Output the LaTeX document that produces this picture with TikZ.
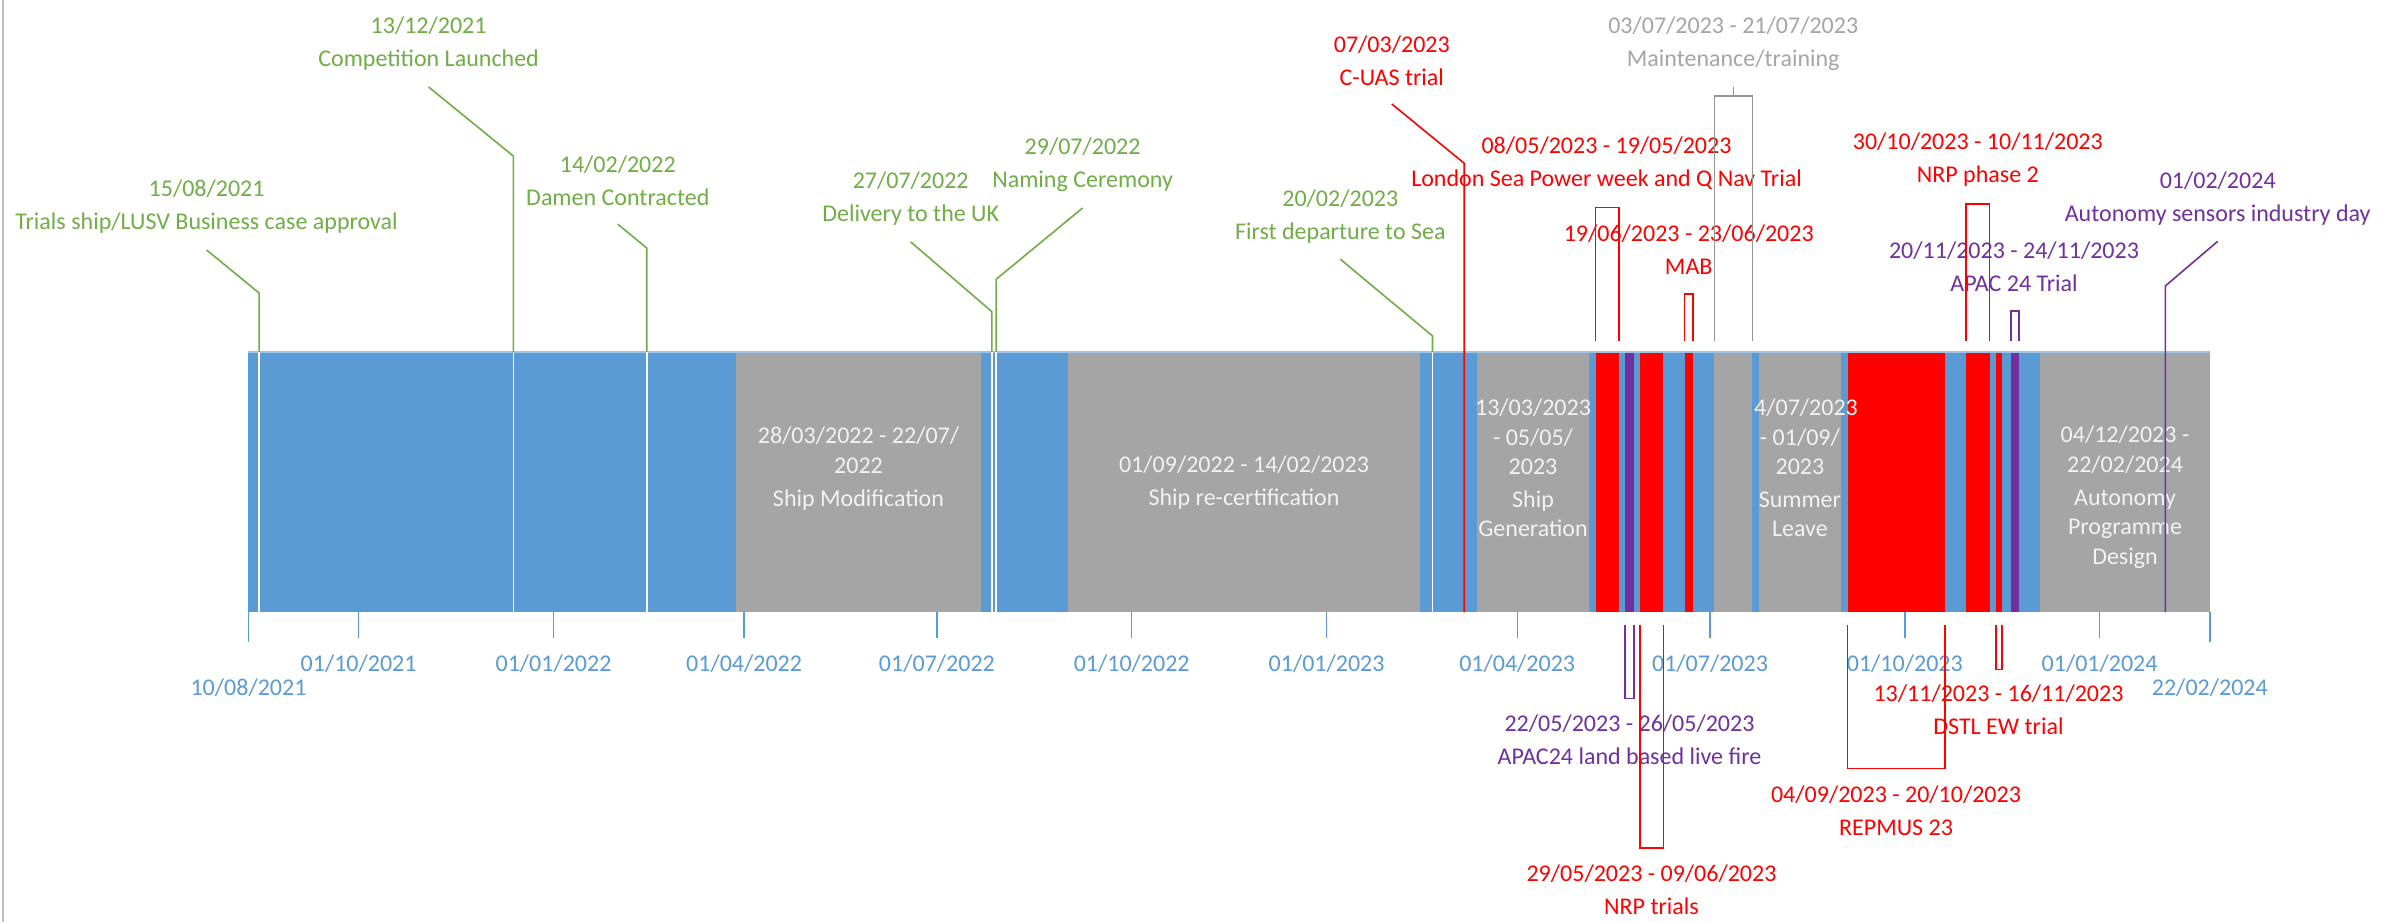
\documentclass[tikz,border=0pt]{standalone}
\usepackage{fontspec}
\setmainfont{Carlito}
\usetikzlibrary{calc}
\usepackage{xcolor}

\definecolor{msgreen}{HTML}{70AD47}
\definecolor{msred}{HTML}{FF0000}
\definecolor{mspurple}{HTML}{7030A0}
\definecolor{msblue}{HTML}{5B9BD5}
\definecolor{msgray}{HTML}{A5A5A5}
\definecolor{mslightblue}{HTML}{9DC3E6}
\definecolor{msbartext}{HTML}{F2F2F2}

\begin{document}
\begin{tikzpicture}[x=0.25mm,y=-0.25mm,every text node part/.style={align=center},
        lbl/.style={inner sep=0pt,font=\fontsize{17.07}{20.98}\selectfont},
        greenlbl/.style={lbl,text=msgreen},
        redlbl/.style={lbl,text=msred},
        purplelbl/.style={lbl,text=mspurple},
        graylbl/.style={lbl,text=msgray},
        barlbl/.style={lbl,text=msbartext},
        axislbl/.style={lbl,text=msblue},
        greenline/.style={draw=msgreen,line width=0.4mm},
        whiteline/.style={draw=white,line width=0.4mm},
        redline/.style={draw=msred,line width=0.4mm},
        purpleline/.style={draw=mspurple,line width=0.4mm},
        grayline/.style={draw=msgray!90!black,line width=0.35mm},
        tickline/.style={draw=msblue,line width=0.35mm}]
        \useasboundingbox (0,0) rectangle (2394,922);
        \fill[white] (0,0) rectangle (2394,922);
        \draw[draw=black!25,line width=0.5mm] (3,0) -- (3,922);

        \fill[msblue] (247.5,352) rectangle (2209.8,612);
        \fill[msgray] (735.6,352) rectangle (981.3,612);
        \fill[msgray] (1068.2,352) rectangle (1419.8,612);
        \fill[msgray] (1476.9,352) rectangle (1589.2,612);
        \fill[msred] (1595.5,352) rectangle (1618.8,612);
        \fill[mspurple] (1625.2,352) rectangle (1633.7,612);
        \fill[msred] (1640.0,352) rectangle (1663.3,612);
        \fill[msred] (1684.5,352) rectangle (1693.0,612);
        \fill[msgray] (1714.2,352) rectangle (1752.3,612);
        \fill[msgray] (1758.6,352) rectangle (1841.2,612);
        \fill[msred] (1847.6,352) rectangle (1945.0,612);
        \fill[msred] (1966.2,352) rectangle (1989.5,612);
        \fill[msred] (1995.9,352) rectangle (2002.2,612);
        \fill[mspurple] (2010.7,352) rectangle (2019.2,612);
        \fill[msgray] (2040.3,352) rectangle (2209.8,612);
        \draw[mslightblue,line width=0.4mm] (247.5,352) -- (2209.8,352);

        \node[barlbl] (shipmod) at (858.5,468.5) {28/03/2022 - 22/07/\\2022\\[0.875mm]Ship Modification};
        \node[barlbl] (recert) at (1244,483) {01/09/2022 - 14/02/2023\\[0.875mm]Ship re-certification};
        \node[barlbl] (shipgen) at (1533,468) {13/03/2023\\- 05/05/\\2023\\[0.875mm]Ship\\Generation};
        \node[barlbl] (summer) at (1799.9,468) {\hphantom{2}4/07/2023\\- 01/09/\\2023\\[0.875mm]Summer\\Leave};
        \node[barlbl] (autonomy) at (2125,497) {04/12/2023 -\\22/02/2024\\[0.875mm]Autonomy\\Programme\\Design};

        \foreach \x/\d [count=\i] in {358.6/{01/10/2021},553.5/{01/01/2022},744.1/{01/04/2022},936.9/{01/07/2022},1131.7/{01/10/2022},1326.6/{01/01/2023},1517.2/{01/04/2023},1710.0/{01/07/2023},1904.8/{01/10/2023},2099.6/{01/01/2024}}{
                \draw[tickline] (\x,612) -- (\x,638);
                \node[axislbl] (tick\i) at (\x,663.3) {\d};
        }
        \draw[tickline] (248.5,612) -- (248.5,641.7);
        \node[axislbl] (tickstart) at (248.5,687.7) {10/08/2021};
        \draw[tickline] (2209.8,612) -- (2209.8,641.7);
        \node[axislbl] (tickend) at (2209.8,687.7) {22/02/2024};

        \node[greenlbl] (lusv) at (206.6,207) {15/08/2021\\[0.875mm]Trials ship/LUSV Business case approval};
        \node[greenlbl] (comp) at (428.6,44) {13/12/2021\\[0.875mm]Competition Launched};
        \node[greenlbl] (damen) at (617.8,181.2) {14/02/2022\\[0.875mm]Damen Contracted};
        \node[greenlbl] (deliv) at (910.7,198.9) {27/07/2022\\[0.875mm]Delivery to the UK};
        \node[greenlbl] (naming) at (1082.6,165) {29/07/2022\\[0.875mm]Naming Ceremony};
        \node[greenlbl] (depart) at (1340.3,216.2) {20/02/2023\\[0.875mm]First departure to Sea};
        \node[redlbl] (cuas) at (1391.8,61) {07/03/2023\\[0.875mm]C-UAS trial};
        \node[redlbl] (london) at (1606.5,163.7) {08/05/2023 - 19/05/2023\\[0.875mm]London Sea Power week and Q Nav Trial};
        \node[redlbl] (mab) at (1688.7,250) {19/06/2023 - 23/06/2023\\[0.875mm]MAB};
        \node[graylbl] (maint) at (1733.2,44) {03/07/2023 - 21/07/2023\\[0.875mm]Maintenance/training};
        \node[redlbl] (nrpphase) at (1977.8,160) {30/10/2023 - 10/11/2023\\[0.875mm]NRP phase 2};
        \node[purplelbl] (apactrial) at (2014,267) {20/11/2023 - 24/11/2023\\[0.875mm]APAC 24 Trial};
        \node[purplelbl] (sensors) at (2217.7,198.3) {01/02/2024\\[0.875mm]Autonomy sensors industry day};
        \node[purplelbl] (apacland) at (1629.5,739.5) {22/05/2023 - 26/05/2023\\[0.875mm]APAC24 land based live fire};
        \node[redlbl] (nrptrials) at (1651.5,890) {29/05/2023 - 09/06/2023\\[0.875mm]NRP trials};
        \node[redlbl] (repmus) at (1896,810.5) {04/09/2023 - 20/10/2023\\[0.875mm]REPMUS 23};
        \node[redlbl] (dstl) at (1998.5,709.7) {13/11/2023 - 16/11/2023\\[0.875mm]DSTL EW trial};

        \coordinate (d150821) at (259.1,352);
        \coordinate (d131221) at (513.3,352);
        \coordinate (d140222) at (646.7,352);
        \coordinate (d270722) at (991.9,352);
        \coordinate (d290722) at (996.1,352);
        \coordinate (d200223) at (1432.5,352);
        \coordinate (d070323) at (1464.2,612);
        \coordinate (d010224) at (2165.3,612);

        \draw[greenline] ($(lusv)+(0,43)$) -- (259.1,293) -- (d150821);
        \draw[greenline] ($(comp)+(0,43)$) -- (513.3,156) -- (d131221);
        \draw[greenline] ($(damen)+(0,43)$) -- (646.7,248) -- (d140222);
        \draw[greenline] ($(deliv)+(0,43)$) -- (991.9,311.7) -- (d270722);
        \draw[greenline] ($(naming)+(0,43)$) -- (996.1,279.3) -- (d290722);
        \draw[greenline] ($(depart)+(0,43)$) -- (1432.5,336) -- (d200223);
        \draw[whiteline] (d150821) -- ++(0,260);
        \draw[whiteline] (d131221) -- ++(0,260);
        \draw[whiteline] (d140222) -- ++(0,260);
        \draw[whiteline] (d270722) -- ++(0,260);
        \draw[whiteline] (d290722) -- ++(0,260);
        \draw[whiteline] (d200223) -- ++(0,260);
        \draw[redline] ($(cuas)+(0,43)$) -- (1464.2,163.3) -- (d070323);
        \draw[purpleline] ($(sensors)+(0,43)$) -- (2165.3,286) -- (d010224);

        \draw[redline] (1595.5,341) |- ($(london)+(0,44)$) -| (1618.8,341);
        \draw[redline] (1684.5,341) |- ($(mab)+(0,44)$) -| (1693.0,341);
        \draw[grayline] (1714.2,341) |- ($(maint)+(0,52)$) -| (1752.3,341);
        \draw[grayline] ($(maint)+(0,43)$) -- ($(maint)+(0,52)$);
        \draw[redline] (1966.2,341) |- ($(nrpphase)+(0,44)$) -| (1989.5,341);
        \draw[purpleline] (2010.7,341) |- ($(apactrial)+(0,44)$) -| (2019.2,341);

        \draw[purpleline] (1625.2,625) |- ($(apacland)+(0,-41.2)$) -| (1633.7,625);
        \draw[redline] (1640.0,625) |- ($(nrptrials)+(0,-42.3)$) -| (1663.3,625);
        \draw[redline] (1847.6,625) |- ($(repmus)+(0,-42.2)$) -| (1945.0,625);
        \draw[redline] (1995.9,625) |- ($(dstl)+(0,-40.4)$) -| (2002.2,625);
\end{tikzpicture}
\end{document}
